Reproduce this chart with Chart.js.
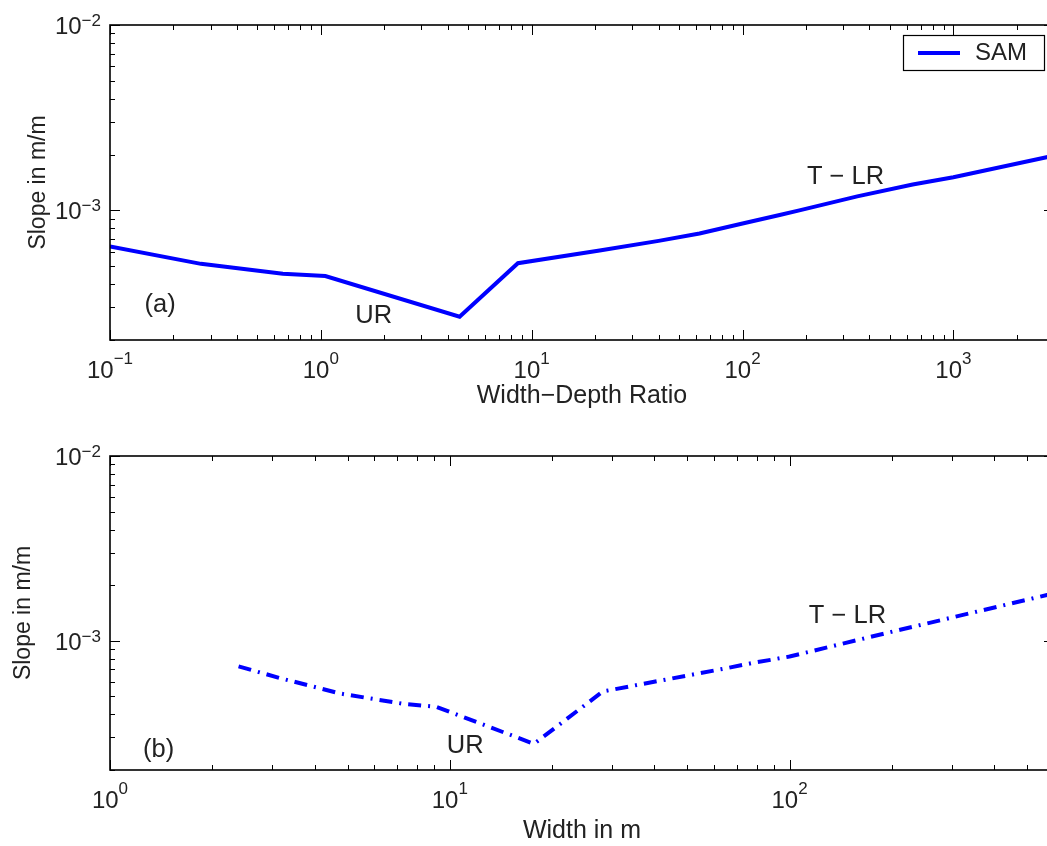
<!DOCTYPE html>
<html lang="en">
<head>
  <meta charset="UTF-8">
  <title>Slope vs Width-Depth Ratio and Width</title>
  <style>
    html, body { margin: 0; padding: 0; background: #fff; overflow: hidden; }
    .wrap { position: relative; width: 1062px; height: 846px; }
    .wrap canvas { position: absolute; left: 0; }
    #chartA { top: 0; }
    #chartB { top: 420px; }
  </style>
</head>
<body>
  <div class="wrap">
    <canvas id="chartA" width="1062" height="420"></canvas>
    <canvas id="chartB" width="1062" height="426"></canvas>
  </div>

  <script src="https://cdn.jsdelivr.net/npm/chart.js"></script>
  <script>
    // panel (a): slope against width-depth ratio
    const ratioX = [0.1, 0.27, 0.66, 1.05, 4.55, 8.6, 21, 40, 62.5, 100, 150, 186, 350, 641, 1000, 2800];
    const ratioSlope = [6.4e-4, 5.15e-4, 4.55e-4, 4.43e-4, 2.67e-4, 5.19e-4, 6.08e-4, 6.85e-4, 7.5e-4,
                        8.5e-4, 9.45e-4, 1.0e-3, 1.19e-3, 1.38e-3, 1.51e-3, 1.94e-3];

    // panel (b): slope against width in m
    const widthX = [2.39, 3.17, 4.77, 7.32, 9.1, 17.7, 28.2, 65.2, 77.3, 100, 192, 580];
    const widthSlope = [7.27e-4, 6.28e-4, 5.18e-4, 4.56e-4, 4.4e-4, 2.77e-4, 5.32e-4, 7.11e-4, 7.57e-4,
                        8.22e-4, 1.1e-3, 1.78e-3];

    // tick labels (10 to the power of ...)
    const ratioTicks = [0.1, 1, 10, 100, 1000];
    const ratioTickExp = ['\u22121', '0', '1', '2', '3'];
    const widthTicks = [1, 10, 100];
    const widthTickExp = ['0', '1', '2'];
    const slopeTicks = [1e-2, 1e-3];
    const slopeTickExp = ['\u22122', '\u22123'];

    const FONT = '"Liberation Sans", Arial, Helvetica, sans-serif';
    const INK = '#222';

    // all 1..9 x 10^n ticks between min and max
    function logTicks(min, max) {
      const out = [];
      for (let d = Math.floor(Math.log10(min)); d <= Math.ceil(Math.log10(max)); d++) {
        for (let m = 1; m <= 9; m++) {
          const v = m * Math.pow(10, d);
          if (v >= min * 0.999 && v <= max * 1.001) out.push({ v: v, major: m === 1 });
        }
      }
      return out;
    }

    function power(ctx, exp) {
      ctx.font = '24px ' + FONT;
      const wb = ctx.measureText('10').width;
      ctx.font = '17px ' + FONT;
      const we = ctx.measureText(exp).width;
      return { wb: wb, we: we };
    }

    // matlab-like box, inward ticks, power labels, notes and legend
    const framePlugin = {
      id: 'frame',
      afterDraw(chart, args, o) {
        const { ctx, chartArea: a, scales: { x, y } } = chart;
        ctx.save();
        ctx.strokeStyle = '#000';
        ctx.lineWidth = 1;
        ctx.beginPath();
        logTicks(x.min, x.max).forEach(t => {
          const px = Math.round(x.getPixelForValue(t.v)) + 0.5;
          const len = t.major ? 10 : 5;
          ctx.moveTo(px, a.bottom); ctx.lineTo(px, a.bottom - len);
          ctx.moveTo(px, a.top); ctx.lineTo(px, a.top + len);
        });
        logTicks(y.min, y.max).forEach(t => {
          const py = Math.round(y.getPixelForValue(t.v)) + 0.5;
          const len = t.major ? 10 : 5;
          ctx.moveTo(a.left, py); ctx.lineTo(a.left + len, py);
          ctx.moveTo(a.right, py); ctx.lineTo(a.right - len, py);
        });
        ctx.stroke();
        ctx.lineWidth = 1.6;
        ctx.strokeRect(a.left, a.top, a.right - a.left, a.bottom - a.top);

        ctx.fillStyle = INK;
        ctx.textBaseline = 'alphabetic';
        // x tick labels
        o.xTicks.forEach((v, i) => {
          const exp = o.xExp[i];
          const w = power(ctx, exp);
          const cx = x.getPixelForValue(v);
          const left = cx - (w.wb + w.we) / 2;
          ctx.textAlign = 'left';
          ctx.font = '24px ' + FONT;
          ctx.fillText('10', left, a.bottom + 38);
          ctx.font = '17px ' + FONT;
          ctx.fillText(exp, left + w.wb, a.bottom + 24);
        });
        // y tick labels
        o.yTicks.forEach((v, i) => {
          const exp = o.yExp[i];
          const w = power(ctx, exp);
          const cy = y.getPixelForValue(v);
          const left = 101 - w.wb - w.we;
          ctx.textAlign = 'left';
          ctx.font = '24px ' + FONT;
          ctx.fillText('10', left, cy + 9);
          ctx.font = '17px ' + FONT;
          ctx.fillText(exp, left + w.wb, cy + 1);
        });

        // text notes placed in data coordinates
        ctx.font = '25.5px ' + FONT;
        ctx.textAlign = 'center';
        ctx.textBaseline = 'middle';
        o.notes.forEach(n => {
          ctx.fillText(n.text, x.getPixelForValue(n.x), y.getPixelForValue(n.y));
        });

        if (o.legend) {
          const ds = chart.data.datasets[0];
          const bx = a.right - 151, by = a.top + 10;
          ctx.font = '24px ' + FONT;
          ctx.fillStyle = '#fff';
          ctx.fillRect(bx, by, 141, 35);
          ctx.strokeStyle = '#000';
          ctx.lineWidth = 1.2;
          ctx.strokeRect(bx + 0.5, by + 0.5, 141, 35);
          ctx.strokeStyle = ds.borderColor;
          ctx.lineWidth = ds.borderWidth;
          ctx.beginPath();
          ctx.moveTo(bx + 15, by + 18); ctx.lineTo(bx + 57, by + 18);
          ctx.stroke();
          ctx.fillStyle = INK;
          ctx.textAlign = 'left';
          ctx.fillText(ds.label, bx + 72, by + 18);
        }
        ctx.restore();
      }
    };

    function makeChart(id, xs, ys, opt) {
      return new Chart(document.getElementById(id), {
        type: 'line',
        data: {
          datasets: [{
            label: 'SAM',
            data: xs.map((v, i) => ({ x: v, y: ys[i] })),
            borderColor: '#0000ff',
            borderWidth: 4,
            borderDash: opt.dash,
            borderCapStyle: 'butt',
            pointRadius: 0,
            tension: 0,
            fill: false
          }]
        },
        options: {
          responsive: false,
          animation: false,
          layout: { padding: { left: 0, right: 8, top: opt.top, bottom: 0 } },
          plugins: {
            legend: { display: false },
            tooltip: { enabled: false },
            frame: {
              xTicks: opt.xTicks, xExp: opt.xExp,
              yTicks: slopeTicks, yExp: slopeTickExp,
              notes: opt.notes, legend: opt.legend
            }
          },
          scales: {
            x: {
              type: 'logarithmic',
              min: opt.xMin, max: opt.xMax,
              grid: { display: false },
              border: { display: false },
              ticks: { display: false },
              afterFit: s => { s.height = opt.xHeight; },
              title: {
                display: true, text: opt.xTitle, color: INK,
                font: { family: FONT, size: 25 },
                padding: { top: 0, bottom: opt.xTitlePad }
              }
            },
            y: {
              type: 'logarithmic',
              min: 2e-4, max: 1e-2,
              grid: { display: false },
              border: { display: false },
              ticks: { display: false },
              afterFit: s => { s.width = 110; },
              title: {
                display: true, text: 'Slope in m/m', color: INK,
                font: { family: FONT, size: 23 },
                padding: { top: opt.yTitlePad, bottom: 0 }
              }
            }
          }
        },
        plugins: [framePlugin]
      });
    }

    window.addEventListener('load', () => {
      makeChart('chartA', ratioX, ratioSlope, {
        dash: [], top: 25, xHeight: 80, xTitlePad: 9, yTitlePad: 25,
        xMin: 0.1, xMax: 3000, xTicks: ratioTicks, xExp: ratioTickExp,
        xTitle: 'Width\u2212Depth Ratio', legend: true,
        notes: [
          { text: '(a)', x: 0.173, y: 3.1e-4 },
          { text: 'UR', x: 1.78, y: 2.7e-4 },
          { text: 'T \u2212 LR', x: 308, y: 1.51e-3 }
        ]
      });
      makeChart('chartB', widthX, widthSlope, {
        dash: [13, 7, 2, 7], top: 36, xHeight: 76, xTitlePad: 0, yTitlePad: 10,
        xMin: 1, xMax: 600, xTicks: widthTicks, xExp: widthTickExp,
        xTitle: 'Width in m', legend: false,
        notes: [
          { text: '(b)', x: 1.39, y: 2.57e-4 },
          { text: 'UR', x: 11.1, y: 2.7e-4 },
          { text: 'T \u2212 LR', x: 148, y: 1.36e-3 }
        ]
      });
    });
  </script>
</body>
</html>
